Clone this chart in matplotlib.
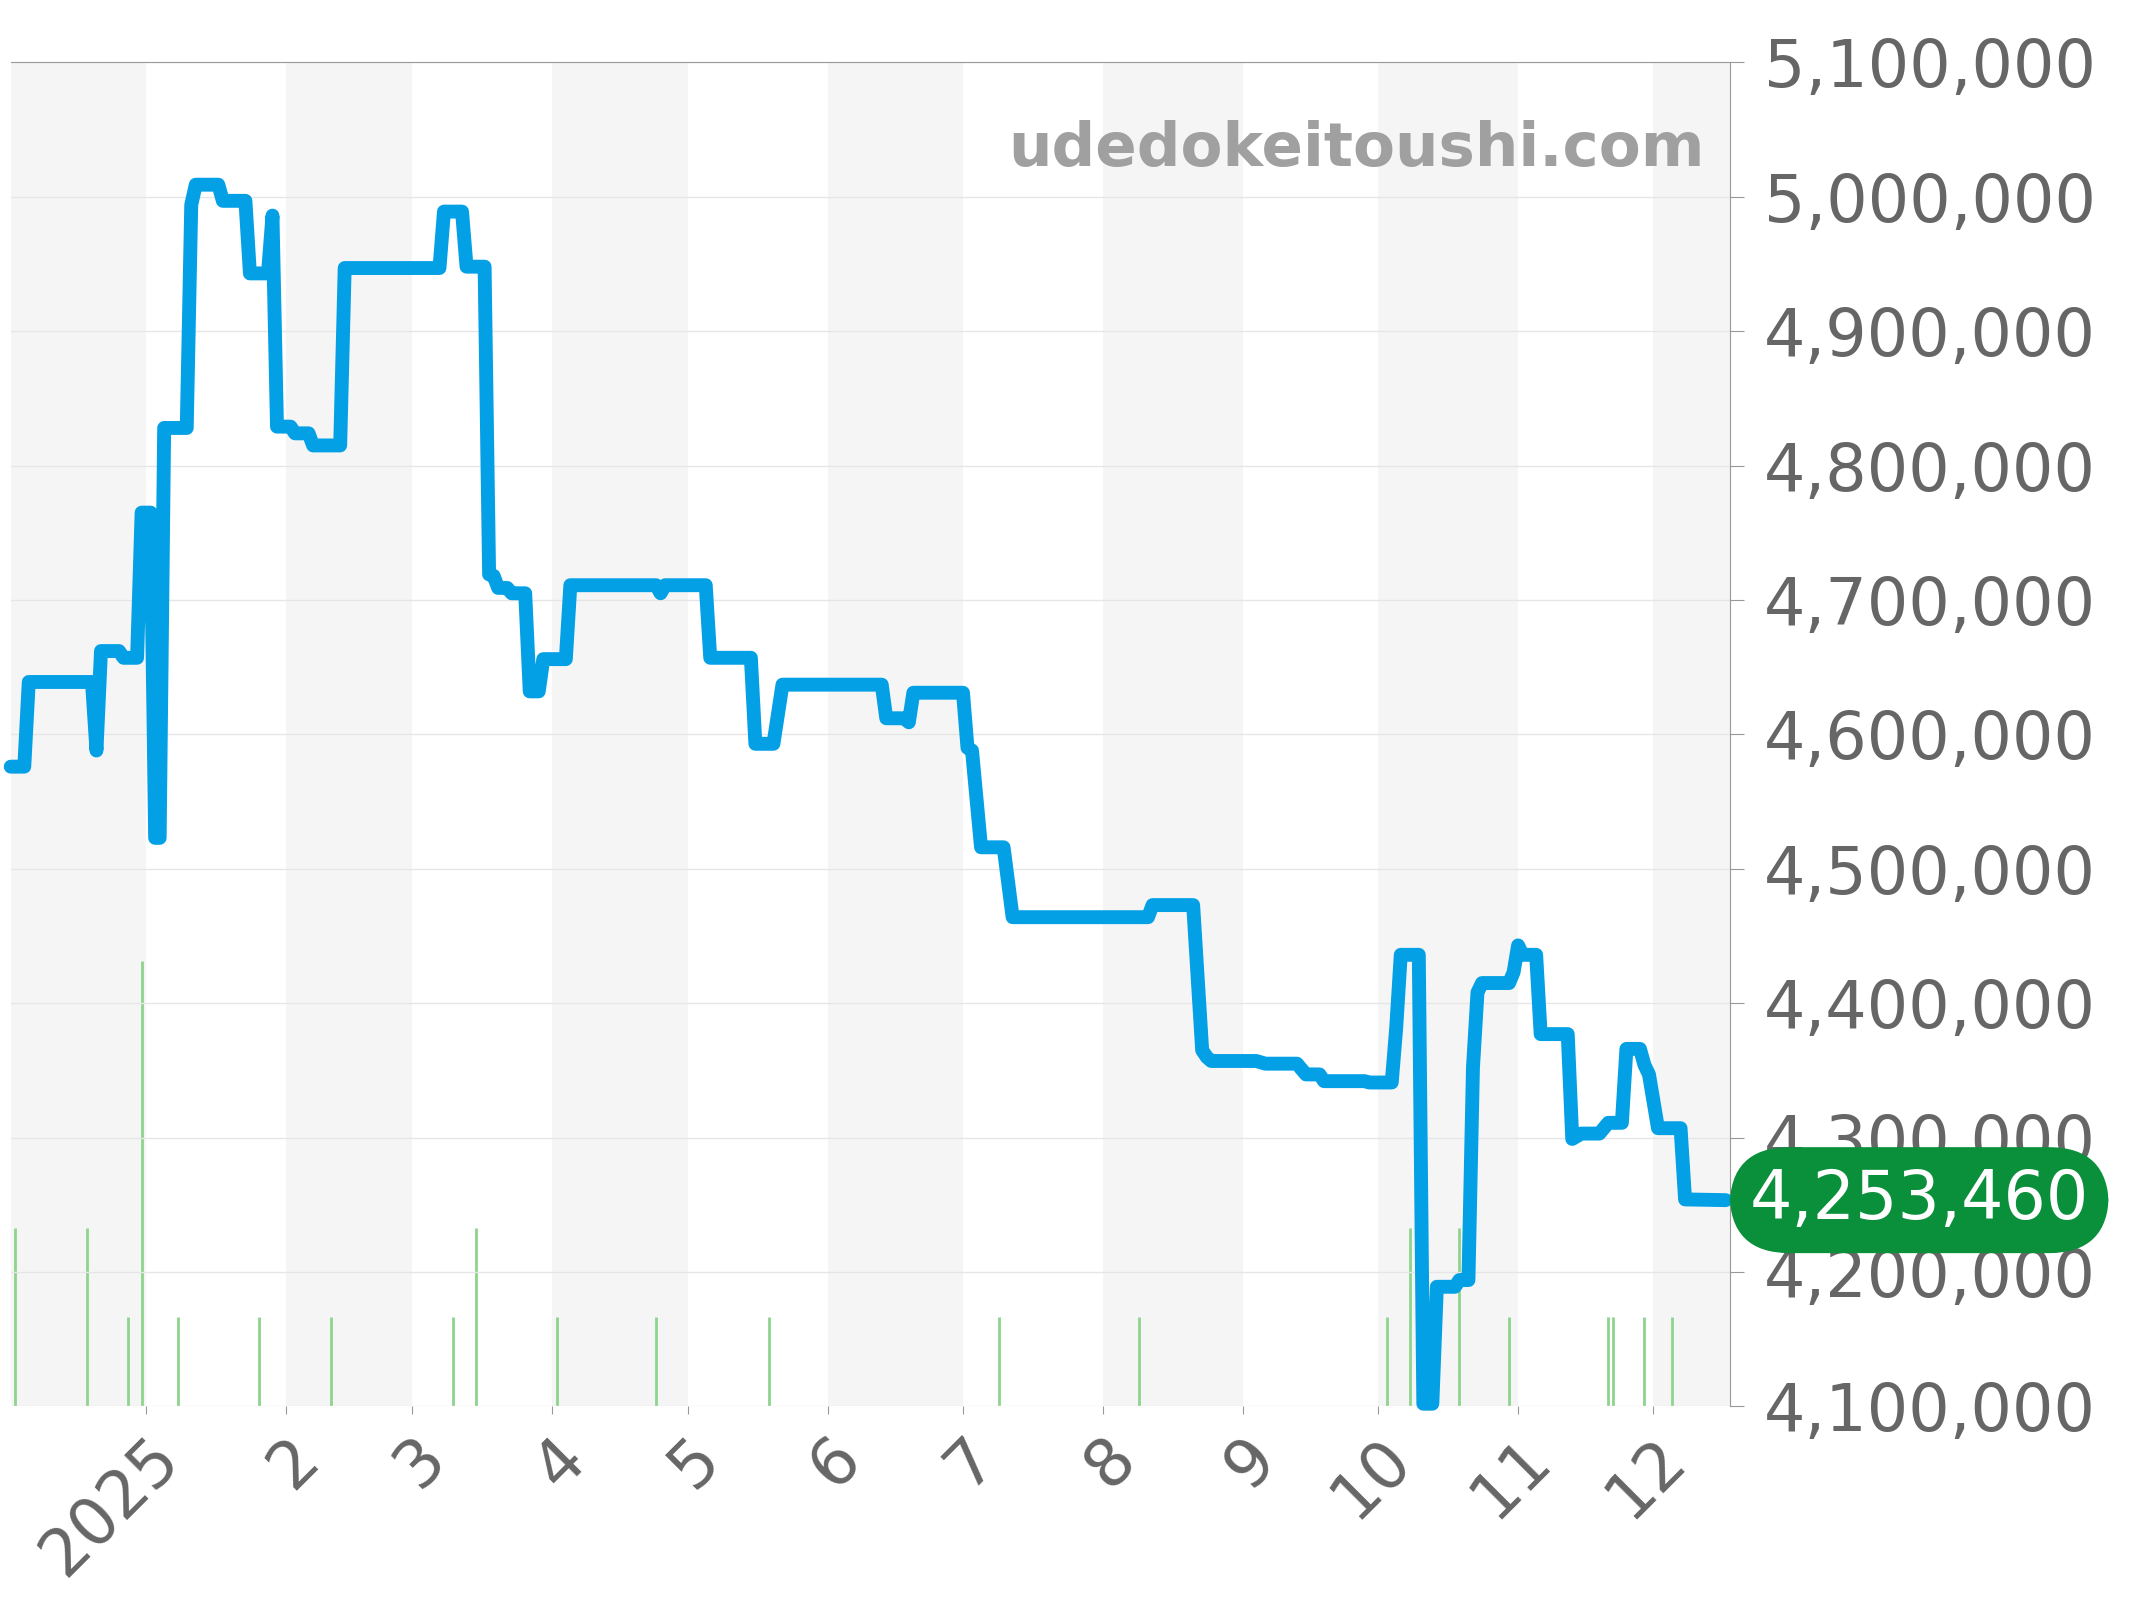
import matplotlib
matplotlib.use("Agg")
import matplotlib.pyplot as plt
import numpy as np

# days from 2025-01-01 and price in thousand yen
price_days = [-30, -27, -26, -12, -11, -10, -6, -5, -2, -1, 1, 2, 3, 4, 9, 10, 11, 16, 17, 22, 23, 27, 28, 29,
              32, 33, 36, 37, 43, 44, 65, 66, 70, 71, 75, 76, 77, 78, 80, 81, 84, 85, 87, 88, 93, 94,
              113, 114, 115, 124, 125, 134, 135, 139, 141, 163, 164, 168, 169, 170, 181, 182, 183, 185,
              190, 192, 222, 223, 232, 234, 235, 236, 246, 248, 255, 257, 260, 261, 270, 271, 276, 277,
              278, 282, 283, 285, 286, 290, 291, 293, 294, 295, 296, 302, 303, 304, 305, 308, 309, 315,
              316, 318, 322, 324, 327, 328, 331, 332, 333, 335, 340, 341, 350]
price_k = [4576, 4576, 4639, 4639, 4588, 4662, 4662, 4657, 4657, 4765, 4765, 4523, 4523, 4828, 4828, 4994,
           5009, 5009, 4997, 4997, 4943, 4943, 4986, 4829, 4829, 4824, 4824, 4815, 4815, 4947, 4947, 4989,
           4989, 4948, 4948, 4719, 4718, 4709, 4709, 4705, 4705, 4632, 4632, 4656, 4656, 4711, 4711, 4705,
           4711, 4711, 4657, 4657, 4593, 4593, 4637, 4637, 4612, 4612, 4609, 4631, 4631, 4590, 4588, 4516,
           4516, 4464, 4464, 4473, 4473, 4365, 4360, 4357, 4357, 4355, 4355, 4347, 4347, 4342, 4342, 4341,
           4341, 4382, 4436, 4436, 4102, 4102, 4189, 4189, 4194, 4194, 4352, 4408, 4415, 4415, 4423, 4443,
           4436, 4436, 4377, 4377, 4299, 4303, 4303, 4311, 4311, 4366, 4366, 4354, 4347, 4307, 4307, 4254, 4253.46]
vol_days = [-29, -13, -4, -1, 7, 25, 41, 68, 73, 91, 113, 138, 189, 220, 275, 280, 291, 302, 324, 325, 332, 338]
vol = [2, 2, 1, 5, 1, 1, 1, 1, 2, 1, 1, 1, 1, 1, 1, 2, 2, 1, 1, 1, 1, 1]
month_days = [0, 31, 59, 90, 120, 151, 181, 212, 243, 273, 304, 334]
month_labels = ["2025", "2", "3", "4", "5", "6", "7", "8", "9", "10", "11", "12"]
last_price = "4,253,460"

gray = "#666666"
fig = plt.figure(figsize=(21.44, 16), dpi=100)
ax = fig.add_axes([0.005, 0.121, 0.802, 0.840])
xmin, xmax = -30, 351
ax.set_xlim(xmin, xmax)
ax.set_ylim(4100, 5100)

vax = ax.twinx()
vax.set_ylim(0, 15.1)
# alternating month shading (on the back axes so volume bars stay visible)
edges = [xmin] + month_days + [xmax]
for i in range(0, len(edges) - 1, 2):
    vax.axvspan(edges[i], edges[i + 1], color="#f5f5f5", lw=0, zorder=0)
vax.vlines(vol_days, 0, vol, color="#8ed48e", lw=2, zorder=2)
vax.axis("off")

ax.grid(axis="y", color="#e6e6e6", lw=1, zorder=1)
ax.plot(price_days, price_k, color="#03a0e6", lw=10, solid_joinstyle="round", solid_capstyle="round",
        zorder=5, clip_on=False)
ax.set_zorder(vax.get_zorder() + 1)
ax.patch.set_visible(False)

ax.yaxis.tick_right()
yt = np.arange(4100, 5101, 100)
ax.set_yticks(yt)
ax.set_yticklabels([f"{v*1000:,}" for v in yt], fontsize=47, color=gray)
ax.tick_params(axis="y", length=10, color="#999999", pad=14)
ax.set_xticks(month_days)
ax.set_xticklabels(month_labels, fontsize=47, color=gray, rotation=45, ha="right", rotation_mode="anchor")
ax.tick_params(axis="x", length=6, color="#999999", pad=8)
for s in ["left", "bottom"]:
    ax.spines[s].set_visible(False)
ax.spines["top"].set_color("#999999")
ax.spines["right"].set_color("#999999")

ax.text(0.985, 0.935, "udedokeitoushi.com", transform=ax.transAxes, ha="right", va="center",
        fontsize=44, fontweight="bold", color="#a0a0a0", zorder=6)

ax.annotate(last_price, xy=(1.0, 4253.46), xycoords=("axes fraction", "data"), xytext=(14, 0),
            textcoords="offset points", ha="left", va="center", fontsize=48, color="white",
            bbox=dict(boxstyle="round,pad=0.3,rounding_size=0.9", fc="#0a8f3a", ec="none"),
            annotation_clip=False, zorder=10)

fig.savefig("out.png", dpi=100)
